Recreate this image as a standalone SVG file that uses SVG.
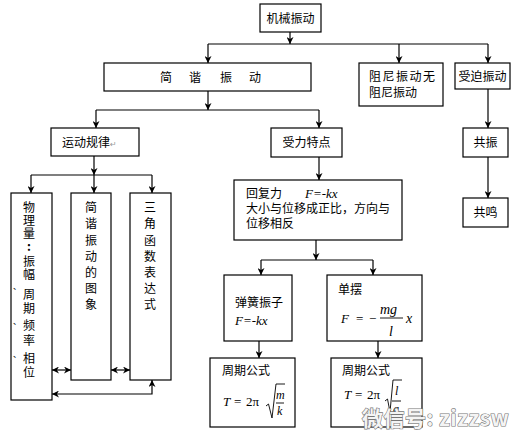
<svg xmlns="http://www.w3.org/2000/svg" width="515" height="437" viewBox="0 0 515 437">
<style>
.bx{fill:#fff;stroke:#000;stroke-width:1.2}
.t{font-family:"Noto Sans CJK SC","Noto Sans",sans-serif;font-size:12px;fill:#000}
.c{text-anchor:middle}
.m{font-family:"Liberation Serif","DejaVu Serif",serif;font-style:italic;font-size:13px;fill:#000}
.r{font-family:"Liberation Serif","DejaVu Serif",serif;font-size:13px;fill:#000}
.ln{fill:none;stroke:#000;stroke-width:1.2}
.a{marker-end:url(#ah)}
.dun{font-size:8px}
.wm{font-family:"Noto Sans CJK SC",sans-serif;font-weight:bold;font-size:21px;fill:#f4f4f4;stroke:#777;stroke-width:1.2;paint-order:stroke}
</style>
<defs>
<marker id="ah" viewBox="0 0 10 10" refX="10" refY="5" markerWidth="7" markerHeight="7" markerUnits="userSpaceOnUse" orient="auto-start-reverse">
<path d="M0,0 L10,5 L0,10 L3,5 z" fill="#000"/>
</marker>
</defs>
<rect width="515" height="437" fill="#fff"/>

<g id="connectors">
<line class="ln a" x1="290" y1="32" x2="290" y2="44"/>
<line class="ln" x1="208" y1="44" x2="488" y2="44"/>
<line class="ln a" x1="208" y1="44" x2="208" y2="63"/>
<line class="ln a" x1="399" y1="44" x2="399" y2="63"/>
<line class="ln a" x1="488" y1="44" x2="488" y2="63"/>
<line class="ln a" x1="208" y1="91" x2="208" y2="110"/>
<line class="ln" x1="96" y1="110" x2="319" y2="110"/>
<line class="ln a" x1="96" y1="110" x2="96" y2="128"/>
<line class="ln a" x1="319" y1="110" x2="319" y2="128"/>
<line class="ln a" x1="94" y1="156" x2="94" y2="175"/>
<line class="ln" x1="31" y1="175" x2="152" y2="175"/>
<line class="ln a" x1="31" y1="175" x2="31" y2="193"/>
<line class="ln a" x1="94" y1="175" x2="94" y2="193"/>
<line class="ln a" x1="152" y1="175" x2="152" y2="193"/>
<line class="ln a" x1="52" y1="370" x2="71" y2="370" marker-start="url(#ah)"/>
<line class="ln a" x1="111" y1="370" x2="130" y2="370" marker-start="url(#ah)"/>
<polyline class="ln a" points="52,394 152,394 152,380" marker-start="url(#ah)"/>
<line class="ln a" x1="319" y1="157" x2="319" y2="180"/>
<line class="ln a" x1="316" y1="240" x2="316" y2="260"/>
<line class="ln" x1="261" y1="260" x2="373" y2="260"/>
<line class="ln a" x1="261" y1="260" x2="261" y2="275"/>
<line class="ln a" x1="373" y1="260" x2="373" y2="275"/>
<line class="ln a" x1="259" y1="341" x2="259" y2="358"/>
<line class="ln a" x1="378" y1="341" x2="378" y2="358"/>
<line class="ln a" x1="488" y1="89" x2="488" y2="128"/>
<line class="ln a" x1="488" y1="157" x2="488" y2="198"/>
</g>

<g id="n-jixie">
<rect class="bx" x="260" y="4" width="61" height="28"/>
<text class="t c" x="290.5" y="22.5">机械振动</text>
</g>

<g id="n-jianxie">
<rect class="bx" x="104" y="63" width="207" height="28"/>
<text class="t c" y="81.5"><tspan x="166">简</tspan><tspan x="195">谐</tspan><tspan x="226">振</tspan><tspan x="255">动</tspan></text>
</g>

<g id="n-zuni">
<rect class="bx" x="359" y="63" width="84" height="43"/>
<text class="t" x="369" y="81" letter-spacing="1.5">阻尼振动无</text>
<text class="t" x="369" y="97">阻尼振动</text>
</g>

<g id="n-shoupo">
<rect class="bx" x="455" y="63" width="55" height="26"/>
<text class="t c" x="482.5" y="80.5">受迫振动</text>
</g>

<g id="n-gongzhen">
<rect class="bx" x="463" y="128" width="45" height="29"/>
<text class="t c" x="485.5" y="147">共振</text>
</g>

<g id="n-gongming">
<rect class="bx" x="463" y="198" width="45" height="29"/>
<text class="t c" x="485.5" y="217">共鸣</text>
</g>

<g id="n-yundong">
<rect class="bx" x="51" y="128" width="88" height="28"/>
<text class="t" x="62" y="146.5">运动规律<tspan font-family="DejaVu Sans,sans-serif" font-size="8" fill="#999">↵</tspan></text>
</g>

<g id="n-wuli">
<rect class="bx" x="11" y="193" width="41" height="207"/>
<text class="t c"><tspan x="29" y="211.5">物</tspan><tspan x="29" y="224.5">理</tspan><tspan x="29" y="237.5">量</tspan><tspan x="29" y="251" font-weight="bold">:</tspan><tspan x="29" y="265.5">振</tspan><tspan x="29" y="278.5">幅</tspan><tspan class="dun" x="17" y="289">、</tspan><tspan x="29" y="298.5">周</tspan><tspan x="29" y="312.5">期</tspan><tspan class="dun" x="17" y="324">、</tspan><tspan x="29" y="329.5">频</tspan><tspan x="29" y="344.5">率</tspan><tspan class="dun" x="17" y="357">、</tspan><tspan x="29" y="362.5">相</tspan><tspan x="29" y="376.5">位</tspan></text>
</g>

<g id="n-tuxiang">
<rect class="bx" x="71" y="193" width="40" height="187"/>
<text class="t c"><tspan x="91" y="211.5">简</tspan><tspan x="91" y="227.5">谐</tspan><tspan x="91" y="244.5">振</tspan><tspan x="91" y="260.5">动</tspan><tspan x="91" y="276.5">的</tspan><tspan x="91" y="292.5">图</tspan><tspan x="91" y="308.5">象</tspan></text>
</g>

<g id="n-sanjiao">
<rect class="bx" x="130" y="193" width="41" height="187"/>
<text class="t c"><tspan x="150" y="211.5">三</tspan><tspan x="150" y="227.5">角</tspan><tspan x="150" y="244.5">函</tspan><tspan x="150" y="260.5">数</tspan><tspan x="150" y="276.5">表</tspan><tspan x="150" y="292.5">达</tspan><tspan x="150" y="308.5">式</tspan></text>
</g>

<g id="n-shouli">
<rect class="bx" x="271" y="128" width="71" height="29"/>
<text class="t c" x="306.5" y="146.5">受力特点</text>
</g>

<g id="n-huifu">
<rect class="bx" x="234" y="180" width="168" height="60"/>
<text class="t" x="246" y="197.5">回复力<tspan class="m" x="305">F=-kx</tspan></text>
<text class="t" x="246" y="212.5">大小与位移成正比，方向与</text>
<text class="t" x="246" y="227.5">位移相反</text>
</g>

<g id="n-tanhuang">
<rect class="bx" x="224" y="275" width="68" height="66"/>
<text class="t" x="235" y="306.5">弹簧振子</text>
<text class="m" x="235" y="324.5">F=-kx</text>
</g>

<g id="n-danbai">
<rect class="bx" x="327" y="275" width="95" height="66"/>
<text class="t" x="338" y="293.5">单摆</text>
<text class="m" font-size="15"><tspan x="341" y="323">F</tspan><tspan class="r" x="356" y="323" font-style="normal">=</tspan><tspan x="369" y="323" font-style="normal">−</tspan><tspan x="380" y="314" font-size="14">mg</tspan><tspan x="389" y="336" font-size="14">l</tspan><tspan x="406" y="323" font-size="14">x</tspan></text>
<line x1="380" y1="318" x2="403" y2="318" stroke="#000" stroke-width="0.9"/>
</g>

<g id="n-zhouqi1">
<rect class="bx" x="210" y="358" width="85" height="69"/>
<text class="t" x="222" y="374.5">周期公式</text>
<text class="m"><tspan x="223" y="406">T</tspan><tspan x="234" y="406" font-style="normal">=</tspan><tspan x="246" y="406" font-style="normal">2π</tspan><tspan x="276" y="399" font-size="12">m</tspan><tspan x="277" y="415" font-size="12">k</tspan></text>
<path d="M266,406 L268.5,404 L272,418 L276,384 L285,384" fill="none" stroke="#000" stroke-width="0.9"/>
<line x1="276" y1="403" x2="284" y2="403" stroke="#000" stroke-width="0.9"/>
</g>

<g id="n-zhouqi2">
<rect class="bx" x="331" y="358" width="91" height="69"/>
<text class="t" x="342" y="374.5">周期公式</text>
<text class="m"><tspan x="344" y="399">T</tspan><tspan x="355" y="399" font-style="normal">=</tspan><tspan x="367" y="399" font-style="normal">2π</tspan><tspan x="395" y="395" font-size="12">l</tspan><tspan x="393" y="413" font-size="12">g</tspan></text>
<path d="M385,401 L387.5,399 L390,412 L393,380 L402,380" fill="none" stroke="#000" stroke-width="0.9"/>
<line x1="392" y1="401" x2="401" y2="401" stroke="#000" stroke-width="0.9"/>
</g>

<text class="wm" x="362" y="426" letter-spacing="0.5">微信号: zizzsw</text>
</svg>
